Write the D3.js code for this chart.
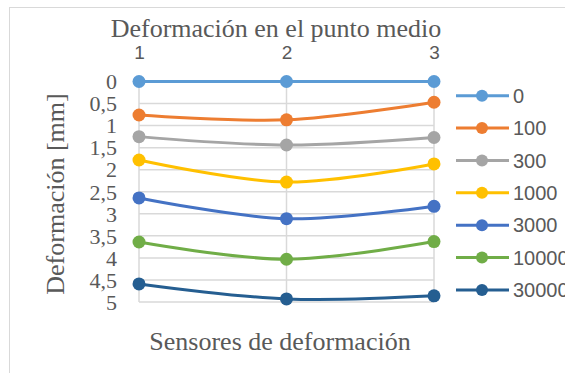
<!DOCTYPE html>
<html>
<head>
<meta charset="utf-8">
<script src="https://cdn.jsdelivr.net/npm/d3@7"></script>
<style>
  html, body { margin: 0; padding: 0; background: #fff; }
  svg { display: block; }
</style>
</head>
<body>
<svg id="chart" width="565" height="373"></svg>
<script>
// Sensor positions along the beam
const sensors = [1, 2, 3];
// Load-cycle series (legend names)
const seriesNames = ["0", "100", "300", "1000", "3000", "10000", "30000"];
// Deflection in mm at each sensor, one row per series
const deflection = [
  [0, 0, 0],
  [0.76, 0.87, 0.47],
  [1.25, 1.44, 1.27],
  [1.78, 2.28, 1.87],
  [2.64, 3.11, 2.83],
  [3.64, 4.03, 3.63],
  [4.59, 4.93, 4.86]
];
const seriesColors = ["#5B9BD5", "#ED7D31", "#A5A5A5", "#FFC000", "#4472C4", "#70AD47", "#255E91"];
const yTicks = [0, 0.5, 1, 1.5, 2, 2.5, 3, 3.5, 4, 4.5, 5];

const svg = d3.select("#chart");
const serif = "'Liberation Serif', 'Times New Roman', serif";
const sans = "'Liberation Sans', Arial, sans-serif";
const textColor = "#595959";
const gridColor = "#d9d9d9";

// Chart frame
svg.append("rect")
  .attr("x", 9.5).attr("y", 7.5)
  .attr("width", 600).attr("height", 400)
  .attr("fill", "#fff").attr("stroke", gridColor).attr("stroke-width", 1);

const x = d3.scalePoint().domain(sensors).range([139, 434]);
const y = d3.scaleLinear().domain([0, 5]).range([81.5, 302]);

// Horizontal gridlines
svg.append("g").selectAll("line").data(yTicks).join("line")
  .attr("x1", x(1)).attr("x2", x(3))
  .attr("y1", d => y(d)).attr("y2", d => y(d))
  .attr("stroke", gridColor).attr("stroke-width", 1.5);

// Vertical gridlines at each sensor
svg.append("g").selectAll("line").data(sensors).join("line")
  .attr("x1", d => x(d)).attr("x2", d => x(d))
  .attr("y1", y(0)).attr("y2", y(5))
  .attr("stroke", gridColor).attr("stroke-width", 1.5);

// Value axis labels (reversed, comma decimals)
const fmt = d => String(d).replace(".", ",");
const yAxis = d3.axisLeft(y).tickValues(yTicks).tickFormat(fmt).tickSize(0).tickPadding(0);
const gy = svg.append("g").attr("transform", "translate(117,0)").call(yAxis);
gy.select(".domain").remove();
gy.selectAll("text")
  .attr("font-family", serif).attr("font-size", 22)
  .attr("fill", textColor).attr("dy", "0.33em");

// Category axis labels on top
const xAxis = d3.axisTop(x).tickSize(0).tickPadding(0);
const gx = svg.append("g").attr("transform", "translate(0,59)").call(xAxis);
gx.select(".domain").remove();
gx.selectAll("text")
  .attr("font-family", sans).attr("font-size", 19)
  .attr("fill", textColor);

// Series lines and markers
const line = d3.line()
  .x((d, i) => x(sensors[i]))
  .y(d => y(d))
  .curve(d3.curveCatmullRom.alpha(0.5));

seriesNames.forEach((name, s) => {
  const g = svg.append("g");
  g.append("path")
    .attr("d", line(deflection[s]))
    .attr("fill", "none")
    .attr("stroke", seriesColors[s])
    .attr("stroke-width", 3)
    .attr("stroke-linecap", "round");
  g.selectAll("circle").data(deflection[s]).join("circle")
    .attr("cx", (d, i) => x(sensors[i]))
    .attr("cy", d => y(d))
    .attr("r", 6.5)
    .attr("fill", seriesColors[s]);
});

// Legend
const legendY = d3.scalePoint().domain(seriesNames).range([95.7, 290]);
const legend = svg.append("g");
seriesNames.forEach((name, s) => {
  const ly = legendY(name);
  legend.append("line")
    .attr("x1", 456).attr("x2", 509)
    .attr("y1", ly).attr("y2", ly)
    .attr("stroke", seriesColors[s]).attr("stroke-width", 3);
  legend.append("circle")
    .attr("cx", 482).attr("cy", ly).attr("r", 6)
    .attr("fill", seriesColors[s]);
  legend.append("text")
    .attr("x", 513).attr("y", ly).attr("dy", "0.36em")
    .attr("font-family", sans).attr("font-size", 20)
    .attr("fill", textColor)
    .text(name);
});

// Titles
svg.append("text")
  .attr("x", 276).attr("y", 37)
  .attr("text-anchor", "middle")
  .attr("font-family", serif).attr("font-size", 26)
  .attr("fill", textColor)
  .text("Deformación en el punto medio");

svg.append("text")
  .attr("x", 280).attr("y", 350)
  .attr("text-anchor", "middle")
  .attr("font-family", serif).attr("font-size", 26)
  .attr("fill", textColor)
  .text("Sensores de deformación");

svg.append("text")
  .attr("transform", "translate(64,194) rotate(-90)")
  .attr("text-anchor", "middle")
  .attr("font-family", serif).attr("font-size", 26)
  .attr("fill", textColor)
  .text("Deformación [mm]");
</script>
</body>
</html>
